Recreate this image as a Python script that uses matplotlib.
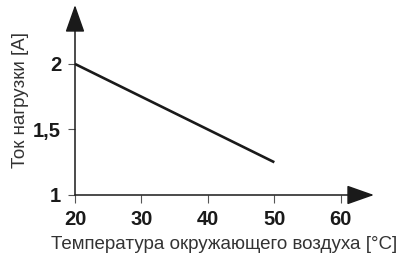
import matplotlib
matplotlib.use("Agg")
import matplotlib.pyplot as plt

plt.rcParams['font.family'] = ['Liberation Sans', 'DejaVu Sans']

temp = [20, 50]
current = [2.0, 1.25]
xticks = [20, 30, 40, 50, 60]
yticks = [1, 1.5, 2]
ytick_labels = ['1', '1,5', '2']

W, H = 408, 261
fig = plt.figure(figsize=(W / 100, H / 100), dpi=100)
ax = fig.add_axes([75 / W, (H - 195) / H, (374 - 75) / W, (195 - 5) / H])
ax.set_xlim(20, 65)
ax.set_ylim(1, 2.45)

for s in ax.spines.values():
    s.set_visible(False)

ink = '#1a1a1a'
arrow = dict(arrowstyle='-|>,head_length=17,head_width=6', mutation_scale=1,
             color=ink, lw=1.1, shrinkA=0, shrinkB=0)
ax.annotate('', xy=(65, 1), xytext=(20, 1), arrowprops=arrow, annotation_clip=False)
ax.annotate('', xy=(20, 2.45), xytext=(20, 1), arrowprops=arrow, annotation_clip=False)

ax.plot(temp, current, color=ink, lw=1.9, solid_capstyle='butt')

ax.set_xticks(xticks)
ax.set_xticklabels([str(t) for t in xticks], fontweight='bold', fontsize=14.5)
ax.set_yticks(yticks)
ax.set_yticklabels(ytick_labels, fontweight='bold', fontsize=14.5)
ax.tick_params(axis='x', direction='out', length=6, width=0.8, color='#555555', pad=5, labelcolor=ink)
ax.tick_params(axis='y', direction='out', length=5, width=0.8, color='#555555', pad=5, labelcolor=ink)

ax.set_xlabel('Температура окружающего воздуха [°C]', fontsize=13.5, color='#333333', labelpad=5)
ax.set_ylabel('Ток нагрузки [A]', fontsize=13.5, color='#333333', labelpad=3)

fig.savefig('out.png', dpi=100)
